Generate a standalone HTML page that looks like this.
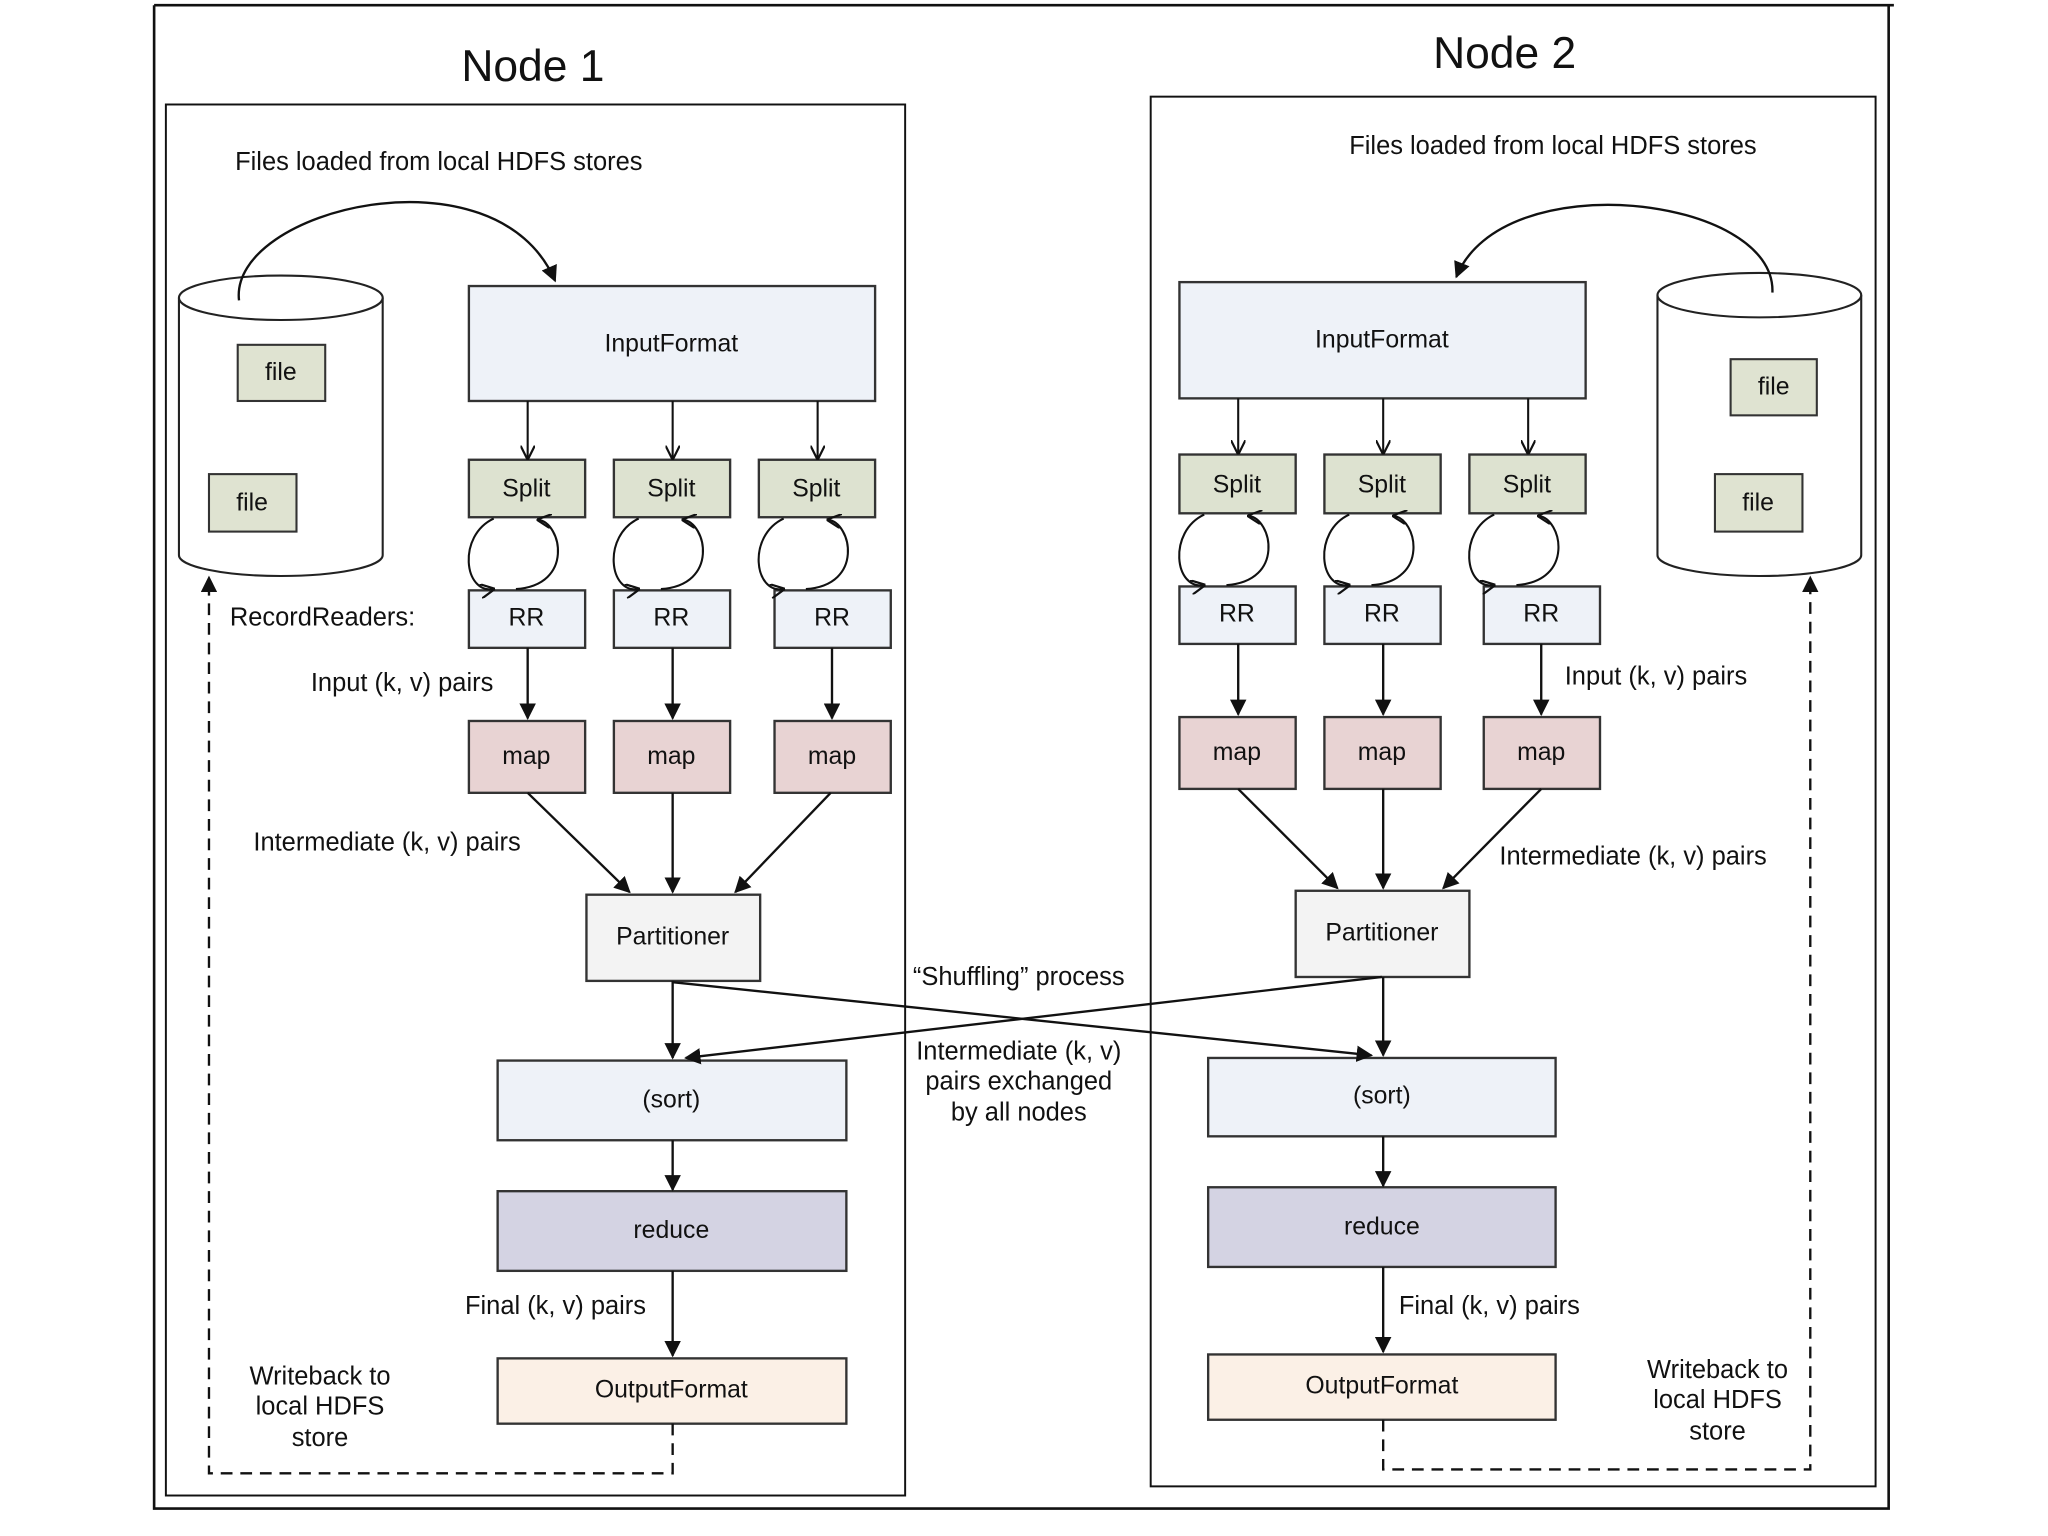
<!DOCTYPE html>
<html><head><meta charset="utf-8"><style>
html,body{margin:0;padding:0;background:#fff;width:2048px;height:1536px;overflow:hidden}
svg{display:block}
text{font-family:"Liberation Sans",sans-serif;fill:#111}
</style></head><body>
<svg width="2048" height="1536" viewBox="0 0 1568 1176" preserveAspectRatio="none" xmlns="http://www.w3.org/2000/svg">
<defs>
<marker id="a" viewBox="0 0 10 10" refX="9" refY="5" markerWidth="7" markerHeight="7" orient="auto"><path d="M0,0 L10,5 L0,10 z" fill="#111"/></marker>
<marker id="o" viewBox="0 0 10 10" refX="9" refY="5" markerWidth="7" markerHeight="7" orient="auto"><path d="M0,0 L10,5 L0,10" fill="none" stroke="#111" stroke-width="1.5"/></marker>
</defs>
<g fill="none" stroke="#111" stroke-width="2">
<path d="M118,4 H1450 M118,4 V1155 H1446 V4"/>
<rect x="127" y="80" width="566" height="1065" stroke-width="1.5"/>
<rect x="881" y="74" width="555" height="1064" stroke-width="1.5"/>
</g>
<text x="408" y="62" font-size="34" text-anchor="middle">Node 1</text>
<text x="1152" y="52" font-size="34" text-anchor="middle">Node 2</text>
<text x="180" y="130" font-size="19.5">Files loaded from local HDFS stores</text>
<text x="1033" y="118" font-size="19.5">Files loaded from local HDFS stores</text>

<g stroke="#222" stroke-width="1.6" fill="#fff">
<path d="M137,228 V425 A78,16 0 0 0 293,425 V228"/>
<ellipse cx="215" cy="228" rx="78" ry="17"/>
<path d="M1269,226 V425 A78,16 0 0 0 1425,425 V226"/>
<ellipse cx="1347" cy="226" rx="78" ry="17"/>
</g>
<g stroke="#333" stroke-width="1.6" fill="#dfe3d1">
<rect x="182" y="264" width="67" height="43"/><rect x="160" y="363" width="67" height="44"/>
<rect x="1325" y="275" width="66" height="43"/><rect x="1313" y="363" width="67" height="44"/>
</g>
<g font-size="19" text-anchor="middle">
<text x="215" y="291">file</text><text x="193" y="391">file</text>
<text x="1358" y="302">file</text><text x="1346" y="391">file</text>
</g>
<g fill="none" stroke="#111" stroke-width="1.8">
<path d="M183,230 C175,160 380,110 425,215" marker-end="url(#a)"/>
<path d="M1357,224 C1360,150 1150,125 1115,212" marker-end="url(#a)"/>
</g>

<g stroke="#333" stroke-width="1.8">
<rect x="359" y="219" width="311" height="88" fill="#eef2f8"/>
<rect x="903" y="216" width="311" height="89" fill="#eef2f8"/>
<g fill="#dde2d0">
<rect x="359" y="352" width="89" height="44"/><rect x="470" y="352" width="89" height="44"/><rect x="581" y="352" width="89" height="44"/>
<rect x="903" y="348" width="89" height="45"/><rect x="1014" y="348" width="89" height="45"/><rect x="1125" y="348" width="89" height="45"/>
</g>
<g fill="#eef2f8">
<rect x="359" y="452" width="89" height="44"/><rect x="470" y="452" width="89" height="44"/><rect x="593" y="452" width="89" height="44"/>
<rect x="903" y="449" width="89" height="44"/><rect x="1014" y="449" width="89" height="44"/><rect x="1136" y="449" width="89" height="44"/>
</g>
<g fill="#e8d3d3">
<rect x="359" y="552" width="89" height="55"/><rect x="470" y="552" width="89" height="55"/><rect x="593" y="552" width="89" height="55"/>
<rect x="903" y="549" width="89" height="55"/><rect x="1014" y="549" width="89" height="55"/><rect x="1136" y="549" width="89" height="55"/>
</g>
<rect x="449" y="685" width="133" height="66" fill="#f3f3f3"/>
<rect x="992" y="682" width="133" height="66" fill="#f3f3f3"/>
<rect x="381" y="812" width="267" height="61" fill="#eef2f8"/>
<rect x="925" y="810" width="266" height="60" fill="#eef2f8"/>
<rect x="381" y="912" width="267" height="61" fill="#d4d3e3"/>
<rect x="925" y="909" width="266" height="61" fill="#d4d3e3"/>
<rect x="381" y="1040" width="267" height="50" fill="#fbf0e6"/>
<rect x="925" y="1037" width="266" height="50" fill="#fbf0e6"/>
</g>
<g font-size="19" text-anchor="middle">
<text x="514" y="269">InputFormat</text><text x="1058" y="266">InputFormat</text>
<text x="403" y="380">Split</text><text x="514" y="380">Split</text><text x="625" y="380">Split</text>
<text x="947" y="377">Split</text><text x="1058" y="377">Split</text><text x="1169" y="377">Split</text>
<text x="403" y="479">RR</text><text x="514" y="479">RR</text><text x="637" y="479">RR</text>
<text x="947" y="476">RR</text><text x="1058" y="476">RR</text><text x="1180" y="476">RR</text>
<text x="403" y="585">map</text><text x="514" y="585">map</text><text x="637" y="585">map</text>
<text x="947" y="582">map</text><text x="1058" y="582">map</text><text x="1180" y="582">map</text>
<text x="515" y="723">Partitioner</text><text x="1058" y="720">Partitioner</text>
<text x="514" y="848">(sort)</text><text x="1058" y="845">(sort)</text>
<text x="514" y="948">reduce</text><text x="1058" y="945">reduce</text>
<text x="514" y="1070">OutputFormat</text><text x="1058" y="1067">OutputFormat</text>
</g>

<g fill="none" stroke="#111" stroke-width="1.6" marker-end="url(#o)">
<path d="M404,307V351"/><path d="M515,307V351"/><path d="M626,307V351"/>
<path d="M948,305V347"/><path d="M1059,305V347"/><path d="M1170,305V347"/>
<path d="M378,397 C350,410 355,455 378,451"/><path d="M395,451 C440,448 430,400 412,398"/>
<path d="M489,397 C461,410 466,455 489,451"/><path d="M506,451 C551,448 541,400 523,398"/>
<path d="M600,397 C572,410 577,455 600,451"/><path d="M617,451 C662,448 652,400 634,398"/>
<path d="M922,394 C894,407 899,452 922,448"/><path d="M939,448 C984,445 974,397 956,395"/>
<path d="M1033,394 C1005,407 1010,452 1033,448"/><path d="M1050,448 C1095,445 1085,397 1067,395"/>
<path d="M1144,394 C1116,407 1121,452 1144,448"/><path d="M1161,448 C1206,445 1196,397 1178,395"/>
</g>
<g fill="none" stroke="#111" stroke-width="1.8" marker-end="url(#a)">
<path d="M404,496V550"/><path d="M515,496V550"/><path d="M637,496V550"/>
<path d="M948,493V547"/><path d="M1059,493V547"/><path d="M1180,493V547"/>
<path d="M404,607L482,683"/><path d="M515,607V683"/><path d="M636,607L563,683"/>
<path d="M948,604L1024,680"/><path d="M1059,604V680"/><path d="M1180,604L1105,680"/>
<path d="M515,751V810"/><path d="M1059,748V808"/>
<path d="M515,752L1050,808"/><path d="M1058,748L525,810"/>
<path d="M515,873V911"/><path d="M1059,870V908"/><path d="M515,973V1038"/><path d="M1059,970V1035"/>
</g>
<g fill="none" stroke="#111" stroke-width="1.8" stroke-dasharray="9,6">
<path d="M515,1090V1128H160V442" marker-end="url(#a)"/>
<path d="M1059,1087V1125H1386V442" marker-end="url(#a)"/>
</g>

<g font-size="19.5">
<text x="176" y="479">RecordReaders:</text>
<text x="238" y="529">Input (k, v) pairs</text>
<text x="1198" y="524">Input (k, v) pairs</text>
<text x="194" y="651">Intermediate (k, v) pairs</text>
<text x="1148" y="662">Intermediate (k, v) pairs</text>
<text x="356" y="1006">Final (k, v) pairs</text>
<text x="1071" y="1006">Final (k, v) pairs</text>
</g>
<g font-size="19.5" text-anchor="middle">
<text x="780" y="754">“Shuffling” process</text>
<text x="780" y="811">Intermediate (k, v)</text>
<text x="780" y="834">pairs exchanged</text>
<text x="780" y="858">by all nodes</text>
<text x="245" y="1060">Writeback to</text><text x="245" y="1083">local HDFS</text><text x="245" y="1107">store</text>
<text x="1315" y="1055">Writeback to</text><text x="1315" y="1078">local HDFS</text><text x="1315" y="1102">store</text>
</g>
</svg>
</body></html>
